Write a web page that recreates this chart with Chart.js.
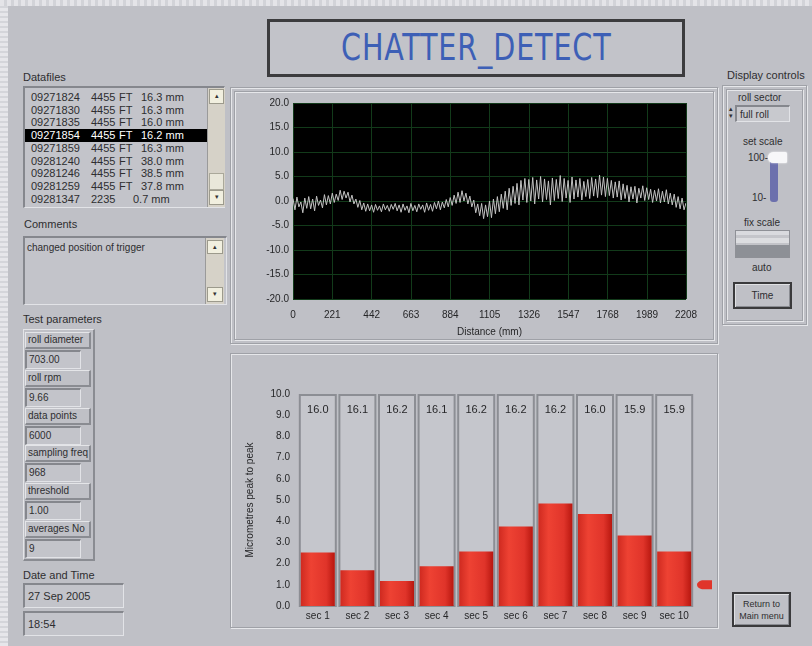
<!DOCTYPE html>
<html>
<head>
<meta charset="utf-8">
<script src="https://cdn.jsdelivr.net/npm/chart.js@4.4.1/dist/chart.umd.min.js"></script>
<style>
html, body { margin: 0; padding: 0; }
body {
  width: 812px; height: 646px; position: relative; overflow: hidden;
  background: #bfc0c6;
  font-family: "Liberation Sans", Arial, sans-serif; font-size: 11px; color: #2e2e30;
}
.a { position: absolute; white-space: nowrap; }
.edgeL { left: 0; top: 0; width: 8px; height: 646px;
  background: repeating-linear-gradient(0deg, #e6e6ea 0 3px, #d4d5da 3px 5px); }
.edgeT { left: 0; top: 0; width: 812px; height: 6px;
  background: repeating-linear-gradient(90deg, #e4e4e8 0 4px, #d2d3d8 4px 7px); }
.inset { border-top: 2px solid #85878d; border-left: 2px solid #85878d;
  border-right: 1px solid #e2e3e7; border-bottom: 1px solid #e2e3e7; background: #c3c4ca; box-sizing: border-box; }
.raised { border-top: 1px solid #e4e5e8; border-left: 1px solid #e4e5e8;
  border-right: 2px solid #8a8c92; border-bottom: 2px solid #8a8c92; box-sizing: border-box; }
.panel { border: 1px solid #9fa1a7; box-shadow: inset 1px 1px 0 #e6e7ea, 1px 1px 0 #e6e7ea; box-sizing: border-box; }
.title { left: 267px; top: 19px; width: 418px; height: 58px; box-sizing: border-box;
  border: 3px solid #3c3c3e; background: #c2c3c9; text-align: center;
  font-family: "Liberation Sans Narrow", "DejaVu Sans Condensed", sans-serif; font-size: 37px;
  line-height: 52px; color: #3d5fb6; }
.title span { display: inline-block; transform: scaleX(0.86); letter-spacing: 1px; }
.sb { background: #d6d2c8; border-left: 1px solid #9a9a9a; box-sizing: border-box; }
.sbtn { background: #f1efdf; border: 1px solid #9c9a8c; box-sizing: border-box; font-size: 7px; text-align: center; line-height: 12px; color: #333; }
.row { height: 12.7px; line-height: 12.7px; }
.row.sel { background: #000; color: #fff; }
.btn { border: 2px solid #3a3a3c; box-shadow: inset 1px 1px 0 #e0e1e4, inset -1px -1px 0 #8a8c92; box-sizing: border-box; text-align: center; }
.small { font-size: 10px; }
</style>
</head>
<body>
<div class="a edgeL"></div>
<div class="a edgeT"></div>

<div class="a title"><span>CHATTER_DETECT</span></div>

<!-- Datafiles -->
<div class="a" style="left:23px;top:71px;">Datafiles</div>
<div class="a inset" id="filelist" style="left:23px;top:86px;width:202px;height:122px;"></div>

<!-- Comments -->
<div class="a" style="left:24px;top:218px;">Comments</div>
<div class="a inset" style="left:23px;top:236px;width:204px;height:69px;">
  <div class="a small" style="left:2px;top:4px;">changed position of trigger</div>
  <div class="a sb" style="left:180px;top:0;width:19px;height:66px;">
    <div class="a sbtn" style="left:1px;top:2px;width:16px;height:14px;">&#9652;</div>
    <div class="a sbtn" style="left:1px;top:49px;width:16px;height:15px;">&#9662;</div>
  </div>
</div>

<!-- Test parameters -->
<div class="a" style="left:23px;top:313px;">Test parameters</div>
<div class="a raised" id="params" style="left:23px;top:329px;width:72px;height:232px;"></div>

<!-- Date and Time -->
<div class="a" style="left:23px;top:569px;">Date and Time</div>
<div class="a inset" style="left:23px;top:583px;width:101px;height:25px;"><div class="a" style="left:3px;top:5px;">27 Sep 2005</div></div>
<div class="a inset" style="left:23px;top:611px;width:101px;height:25px;"><div class="a" style="left:3px;top:5px;">18:54</div></div>

<!-- Chart panels -->
<div class="a panel" style="left:230px;top:87px;width:488px;height:257px;"></div>
<div class="a panel" style="left:234px;top:91px;width:480px;height:249px;"></div>
<canvas id="wave" class="a" width="482" height="250" style="left:232px;top:90px;"></canvas>

<div class="a panel" style="left:230px;top:353px;width:488px;height:275px;"></div>
<canvas id="bars" class="a" width="482" height="270" style="left:232px;top:356px;"></canvas>

<!-- Display controls -->
<div class="a" style="left:727px;top:69px;">Display controls</div>
<div class="a panel" style="left:722px;top:85px;width:85px;height:240px;"></div>
<div class="a panel" style="left:726px;top:89px;width:77px;height:232px;"></div>
<div class="a small" style="left:738px;top:92px;">roll sector</div>
<div class="a small" style="left:729px;top:105px;font-size:7px;line-height:7px;">&#9652;<br>&#9662;</div>
<div class="a inset" style="left:735px;top:105px;width:55px;height:17px;background:#c8c9ce;"><div class="a small" style="left:3px;top:2px;">full roll</div></div>
<div class="a small" style="left:743px;top:136px;">set scale</div>
<div class="a small" style="left:748px;top:152px;">100-</div>
<div class="a small" style="left:752px;top:192px;">10-</div>
<div class="a" style="left:770px;top:158px;width:8px;height:44px;background:#6c70ad;border-radius:3px;"></div>
<div class="a" style="left:768px;top:152px;width:19px;height:11px;background:#f7f7f9;border-radius:6px 2px 2px 6px;box-shadow:0 0 2px #ffffff;"></div>
<div class="a small" style="left:744px;top:217px;">fix scale</div>
<div class="a" style="left:735px;top:230px;width:55px;height:28px;border:1px solid #8e9096;box-sizing:border-box;background:linear-gradient(#d9dade 0 4px,#c4c5ca 4px 7px,#dcdde0 7px 12px,#c2c3c8 12px 14px,#8d9096 14px);"></div>
<div class="a small" style="left:752px;top:262px;">auto</div>
<div class="a btn small" style="left:733px;top:282px;width:59px;height:27px;line-height:23px;">Time</div>

<!-- Return button -->
<div class="a btn" style="left:732px;top:592px;width:59px;height:35px;font-size:9px;line-height:12px;padding-top:4px;">Return to<br>Main menu</div>

<script>
// ---- data ----
const datafileIds   = ["09271824", "09271830", "09271835", "09271854", "09271859", "09281240", "09281246", "09281259", "09281347"];
const datafileSpeed = ["4455", "4455", "4455", "4455", "4455", "4455", "4455", "4455", "2235"];
const datafileUnit  = ["FT", "FT", "FT", "FT", "FT", "FT", "FT", "FT", ""];
const datafileSize  = ["16.3 mm", "16.3 mm", "16.0 mm", "16.2 mm", "16.3 mm", "38.0 mm", "38.5 mm", "37.8 mm", "0.7 mm"];
const selectedFile = 3;

const paramNames  = ["roll diameter", "roll rpm", "data points", "sampling freq", "threshold", "averages No"];
const paramValues = ["703.00", "9.66", "6000", "968", "1.00", "9"];

// waveform: amplitude, one sample every SAMPLE_STEP mm
const SAMPLE_STEP = 11.04;
const amplitude = [
   0.5, -1.8,  0.8, -1.2, -0.2, -2.4,  0.6, -1.5,  0.9, -1.6,
   0.4, -2.0,  1.0, -0.9,  0.2, -1.4,  1.3, -0.8,  1.1, -0.6,
   1.6, -0.3,  1.4,  0.1,  2.2,  0.3,  2.0,  0.6,  1.8, -0.2,
   1.2, -0.6,  0.4, -1.3,  0.1, -1.8, -0.4, -2.1, -0.6, -2.0,
  -0.8, -2.3, -0.7, -1.9, -1.0, -2.2, -0.6, -1.8, -0.9, -2.1,
  -0.7, -1.7, -0.5, -2.0, -0.8, -2.3, -0.6, -1.9, -1.0, -2.4,
  -0.5, -2.0, -0.9, -2.2, -0.6, -1.7, -0.8, -2.3, -0.4, -1.9,
  -0.7, -2.1, -0.3, -1.6,  0.0, -1.8, -0.2, -1.4,  0.3, -1.2,
   0.7, -0.9,  1.2, -0.5,  1.8, -0.3,  2.1,  0.0,  1.6, -0.6,
   1.0, -1.2,  0.2, -2.4, -0.6, -3.0, -0.5, -3.6, -0.8, -3.2,
   0.0, -3.4,  0.4, -2.6,  0.9, -2.2,  1.4, -1.5,  2.0, -1.8,
   2.6, -0.9,  3.0, -0.5,  3.6, -0.8,  4.2,  0.2,  4.6, -0.3,
   4.4,  0.0,  4.8, -0.6,  4.3,  0.4,  5.0, -0.2,  4.5,  0.3,
   4.1, -0.8,  4.7,  0.1,  4.4,  0.5,  5.2, -0.1,  4.6,  0.6,
   4.2, -0.3,  4.9,  0.4,  4.3,  0.8,  4.6,  0.2,  4.0,  0.9,
   4.4,  0.5,  4.8,  1.0,  4.5,  0.7,  5.3,  1.2,  4.9,  0.9,
   4.6,  1.1,  4.2,  0.6,  3.9,  0.8,  4.1,  0.2,  3.5,  0.5,
   3.2, -0.2,  2.9,  0.4,  3.0, -0.4,  2.6,  0.6,  3.1,  0.1,
   2.7,  0.3,  2.4, -0.3,  2.2,  0.0,  2.5, -0.4,  2.0, -0.2,
   2.3, -0.6,  1.6, -0.8,  1.4, -1.3,  0.9, -1.6,  0.6, -1.8,
  -0.4
];
const distanceTicks = [0, 221, 442, 663, 884, 1105, 1326, 1547, 1768, 1989, 2208];

const sectors = ["sec 1", "sec 2", "sec 3", "sec 4", "sec 5", "sec 6", "sec 7", "sec 8", "sec 9", "sec 10"];
const peakToPeak = [2.52, 1.69, 1.18, 1.88, 2.57, 3.75, 4.83, 4.34, 3.33, 2.57];
const sectorReadout = ["16.0", "16.1", "16.2", "16.1", "16.2", "16.2", "16.2", "16.0", "15.9", "15.9"];
const threshold = 1.0;

// ---- side panels ----
const list = document.getElementById('filelist');
datafileIds.forEach((id, i) => {
  const r = document.createElement('div');
  r.className = 'a row' + (i === selectedFile ? ' sel' : '');
  r.style.cssText = `left:0;top:${3 + i * 12.7}px;width:182px;`;
  r.innerHTML = `<span class="a" style="left:6px">${id}</span><span class="a" style="left:66px">${datafileSpeed[i]}</span>` +
    `<span class="a" style="left:94px">${datafileUnit[i]}</span><span class="a" style="left:${datafileUnit[i] ? 116 : 108}px">${datafileSize[i]}</span>`;
  list.appendChild(r);
});
list.insertAdjacentHTML('beforeend',
  `<div class="a sb" style="left:182px;top:0;width:18px;height:119px;">
     <div class="a sbtn" style="left:1px;top:1px;width:15px;height:15px;">&#9652;</div>
     <div class="a" style="left:1px;top:85px;width:15px;height:17px;background:#e9e7da;border:1px solid #aaa89a;box-sizing:border-box;"></div>
     <div class="a sbtn" style="left:1px;top:102px;width:15px;height:15px;">&#9662;</div>
   </div>`);

const params = document.getElementById('params');
paramNames.forEach((n, i) => {
  const top = 2 + i * 37.8;
  params.insertAdjacentHTML('beforeend',
    `<div class="a raised small" style="left:1px;top:${top}px;width:66px;height:17px;line-height:14px;padding-left:2px;">${n}</div>
     <div class="a inset small" style="left:1px;top:${top + 18}px;width:56px;height:19px;line-height:15px;padding-left:2px;">${paramValues[i]}</div>`);
});

// ---- charts ----
Chart.defaults.font.family = '"Liberation Sans", Arial, sans-serif';
Chart.defaults.font.size = 10;
Chart.defaults.color = '#262628';

const blackPlot = {
  id: 'blackPlot',
  beforeDraw(chart) {
    const { ctx, chartArea: a } = chart;
    ctx.save();
    ctx.fillStyle = '#000';
    ctx.fillRect(a.left, a.top, a.width, a.height);
    ctx.restore();
  }
};

new Chart(document.getElementById('wave'), {
  type: 'line',
  data: {
    datasets: [{
      data: amplitude.map((v, i) => ({ x: i * SAMPLE_STEP, y: v })),
      borderColor: '#c4c4c4',
      borderWidth: 1,
      pointRadius: 0,
      tension: 0
    }]
  },
  options: {
    responsive: false,
    animation: false,
    layout: { padding: { top: 13, right: 28, left: 0, bottom: 0 } },
    plugins: { legend: { display: false }, tooltip: { enabled: false } },
    scales: {
      x: {
        type: 'linear', min: 0, max: 2208,
        afterBuildTicks: s => { s.ticks = distanceTicks.map(v => ({ value: v })); },
        afterFit: s => { s.height = 41; },
        ticks: { autoSkip: false, maxRotation: 0, padding: 10, callback: v => v },
        grid: { color: '#123a1a', drawTicks: false },
        border: { display: false },
        title: { display: true, text: 'Distance (mm)', padding: { top: 0, bottom: 2 }, font: { size: 10 } }
      },
      y: {
        min: -20, max: 20,
        afterFit: s => { s.width = 61; },
        ticks: { stepSize: 5, padding: 4, callback: v => v.toFixed(1) },
        grid: { color: '#123a1a', drawTicks: false },
        border: { display: false }
      }
    }
  },
  plugins: [blackPlot]
});

const tanks = {
  id: 'tanks',
  beforeDatasetsDraw(chart) {
    const { ctx, scales: { x, y } } = chart;
    const top = y.getPixelForValue(y.max), bottom = y.getPixelForValue(0);
    const w = x.width / sectors.length * 0.96;
    ctx.save();
    sectors.forEach((s, i) => {
      const cx = x.getPixelForValue(i);
      ctx.fillStyle = '#c5c6cc';
      ctx.fillRect(cx - w / 2, top, w, bottom - top);
      ctx.strokeStyle = '#8c8e94';
      ctx.lineWidth = 2;
      ctx.strokeRect(cx - w / 2 + 1, top + 1, w - 2, bottom - top - 1);
      ctx.fillStyle = '#262628';
      ctx.font = '11px "Liberation Sans", Arial, sans-serif';
      ctx.textAlign = 'center';
      ctx.textBaseline = 'middle';
      ctx.fillText(sectorReadout[i], cx, top + 16);
    });
    // threshold pointer on the right of the plot
    const my = y.getPixelForValue(threshold);
    const mx = chart.chartArea.right + 3;
    ctx.fillStyle = '#e0352a';
    ctx.beginPath();
    ctx.moveTo(mx + 15, my - 4.5);
    ctx.lineTo(mx + 5, my - 4.5);
    ctx.quadraticCurveTo(mx, my - 3, mx, my);
    ctx.quadraticCurveTo(mx, my + 3, mx + 5, my + 4.5);
    ctx.lineTo(mx + 15, my + 4.5);
    ctx.closePath();
    ctx.fill();
    ctx.restore();
  }
};

new Chart(document.getElementById('bars'), {
  type: 'bar',
  data: {
    labels: sectors,
    datasets: [{
      data: peakToPeak,
      barPercentage: 0.86,
      categoryPercentage: 1,
      borderWidth: 0,
      backgroundColor(c) {
        const chart = c.chart;
        if (!chart.chartArea) return '#e0352a';
        const x = chart.scales.x;
        const cx = x.getPixelForValue(c.dataIndex);
        const w = x.width / sectors.length * 0.86;
        const g = chart.ctx.createLinearGradient(cx - w / 2, 0, cx + w / 2, 0);
        g.addColorStop(0, '#cf2a20');
        g.addColorStop(0.3, '#ee4233');
        g.addColorStop(0.75, '#e0342a');
        g.addColorStop(1, '#b8170f');
        return g;
      }
    }]
  },
  options: {
    responsive: false,
    animation: false,
    layout: { padding: { top: 38, right: 20, left: 0, bottom: 0 } },
    plugins: { legend: { display: false }, tooltip: { enabled: false } },
    scales: {
      x: {
        afterFit: s => { s.height = 20; },
        ticks: { padding: 4, maxRotation: 0, autoSkip: false },
        grid: { display: false, drawTicks: false },
        border: { display: false }
      },
      y: {
        min: 0, max: 10,
        afterFit: s => { s.width = 66; },
        ticks: { stepSize: 1, padding: 8, callback: v => v.toFixed(1) },
        grid: { display: false, drawTicks: false },
        border: { display: false },
        title: { display: true, text: 'Micrometres peak to peak', padding: { top: 12, bottom: 0 }, font: { size: 10 } }
      }
    }
  },
  plugins: [tanks]
});
</script>
</body>
</html>
